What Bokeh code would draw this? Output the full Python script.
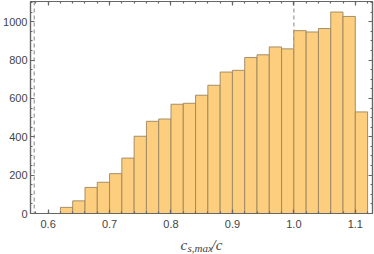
import numpy as np
from bokeh.plotting import figure
from bokeh.layouts import column
from bokeh.models import (LinearAxis, SingleIntervalTicker, Span, Label,
                          CustomJSTickFormatter, Range1d)
from bokeh.embed import file_html
from bokeh.resources import INLINE

# ---- data ----
bin_left = [0.62, 0.64, 0.66, 0.68, 0.70, 0.72, 0.74, 0.76, 0.78, 0.80,
            0.82, 0.84, 0.86, 0.88, 0.90, 0.92, 0.94, 0.96, 0.98, 1.00,
            1.02, 1.04, 1.06, 1.08, 1.10]
bin_right = [0.64, 0.66, 0.68, 0.70, 0.72, 0.74, 0.76, 0.78, 0.80, 0.82,
             0.84, 0.86, 0.88, 0.90, 0.92, 0.94, 0.96, 0.98, 1.00, 1.02,
             1.04, 1.06, 1.08, 1.10, 1.12]
counts = [32, 66, 136, 163, 208, 289, 403, 481, 493, 570,
          575, 617, 669, 738, 747, 814, 828, 869, 859, 954,
          947, 965, 1051, 1028, 530]
ref_lines = [0.57735, 1.0]
x_label_main = "c"
x_label_sub = "s,max"
x_label_tail = "/c"

AX = "#666666"
TXT = "#444444"

p = figure(width=374, height=232, output_backend="svg", toolbar_location=None,
           x_range=Range1d(0.5713, 1.128), y_range=Range1d(0, 1106),
           min_border_left=29, min_border_right=2, min_border_top=1,
           min_border_bottom=19, x_axis_location=None, y_axis_location=None)
p.xgrid.visible = False
p.ygrid.visible = False
p.outline_line_color = AX
p.outline_line_width = 1.2
p.background_fill_color = "white"
p.border_fill_color = "white"

for v in ref_lines:
    p.add_layout(Span(location=v, dimension="height", line_color="#9a9a9a",
                      line_width=1.2, line_dash="4 3", level="underlay"))

p.quad(left=bin_left, right=bin_right, bottom=0, top=counts,
       fill_color="#FCCE7E", line_color="#9a8660", line_width=1, line_alpha=0.9)

def style(ax, labels=True):
    ax.axis_line_color = AX
    ax.axis_line_width = 1.2
    ax.major_tick_line_color = AX
    ax.minor_tick_line_color = AX
    ax.major_tick_line_width = 1.2
    ax.minor_tick_line_width = 1.2
    ax.major_tick_in = 4
    ax.major_tick_out = 0
    ax.minor_tick_in = 2
    ax.minor_tick_out = 0
    ax.major_label_text_font = "Liberation Sans"
    ax.major_label_text_font_size = "11px"
    ax.major_label_text_color = TXT
    if not labels:
        ax.formatter = CustomJSTickFormatter(code="return ''")
        ax.major_label_standoff = 0
        ax.major_label_text_font_size = "0px"

xt = dict(interval=0.1, num_minor_ticks=5)
yt = dict(interval=200, num_minor_ticks=4)

bx = LinearAxis(ticker=SingleIntervalTicker(**xt),
                formatter=CustomJSTickFormatter(code="return tick.toFixed(1)"))
style(bx); bx.major_label_standoff = 6
p.add_layout(bx, "below")
tx = LinearAxis(ticker=SingleIntervalTicker(**xt))
style(tx, False)
p.add_layout(tx, "above")
ly = LinearAxis(ticker=SingleIntervalTicker(**yt))
style(ly); ly.major_label_standoff = 3
p.add_layout(ly, "left")
ry = LinearAxis(ticker=SingleIntervalTicker(**yt))
style(ry, False)
p.add_layout(ry, "right")

# x-axis label strip (italic serif with subscript)
q = figure(width=374, height=22, output_backend="svg", toolbar_location=None,
           x_range=Range1d(0, 374), y_range=Range1d(0, 22),
           min_border=0, x_axis_location=None, y_axis_location=None)
q.xgrid.visible = False
q.ygrid.visible = False
q.outline_line_color = None
q.border_fill_color = "white"
q.background_fill_color = "white"
sx, sy = 150, 10
common = dict(x_units="screen", y_units="screen", text_font="Liberation Serif",
              text_font_style="italic", text_color=TXT, text_baseline="alphabetic")
q.add_layout(Label(x=sx, y=sy, text=x_label_main, text_font_size="15px", **common))
q.add_layout(Label(x=sx + 7, y=sy - 3, text=x_label_sub, text_font_size="11px", **common))
q.add_layout(Label(x=sx + 31, y=sy, text=x_label_tail, text_font_size="15px", **common))

layout = column(p, q, spacing=0)
open("out.html", "w").write(file_html(layout, INLINE))
